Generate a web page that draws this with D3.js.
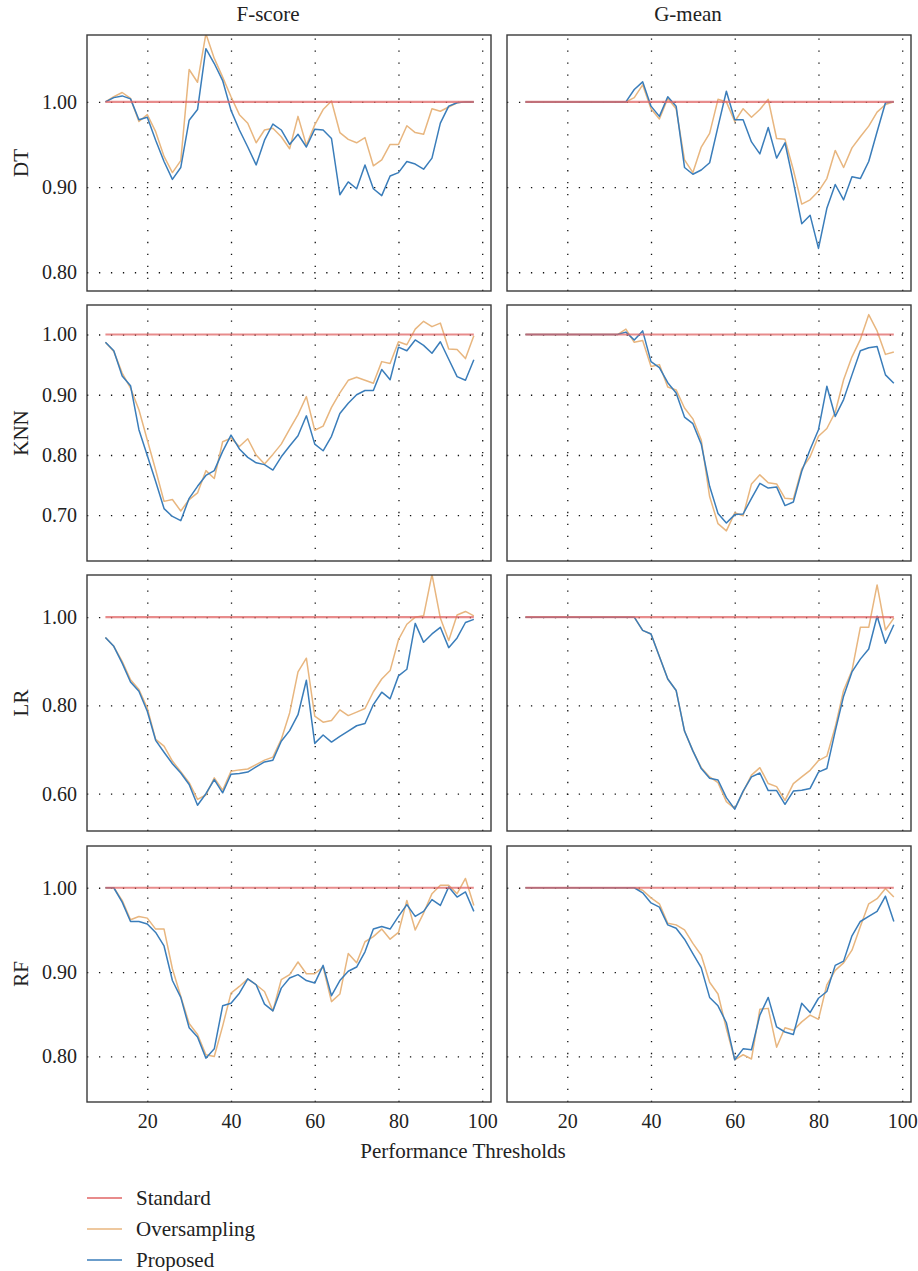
<!DOCTYPE html>
<html>
<head>
<meta charset="utf-8">
<script src="https://cdn.jsdelivr.net/npm/d3@7"></script>
<style>
  body { margin: 0; background: #fff; }
  svg { display: block; }
</style>
</head>
<body>
<svg id="chart"></svg>
<script>
// Thresholds on the x axis (every 2 from 10 to 98)
var thresholds = [10, 12, 14, 16, 18, 20, 22, 24, 26, 28, 30, 32, 34, 36, 38, 40, 42, 44, 46, 48,
  50, 52, 54, 56, 58, 60, 62, 64, 66, 68, 70, 72, 74, 76, 78, 80, 82, 84, 86, 88,
  90, 92, 94, 96, 98];

var standard = [1, 1, 1, 1, 1, 1, 1, 1, 1, 1, 1, 1, 1, 1, 1, 1, 1, 1, 1, 1, 1, 1, 1,
  1, 1, 1, 1, 1, 1, 1, 1, 1, 1, 1, 1, 1, 1, 1, 1, 1, 1, 1, 1, 1, 1];

var columnTitles = ['F-score', 'G-mean'];
var rowLabels = ['DT', 'KNN', 'LR', 'RF'];
var xTicks = [20, 40, 60, 80, 100];
var legendLabels = ['Standard', 'Oversampling', 'Proposed'];

// DT
var dtFscoreOver = [1.000, 1.006, 1.011, 1.004, 0.977, 0.985, 0.965, 0.936, 0.917, 0.931,
  1.038, 1.023, 1.080, 1.051, 1.029, 1.006, 0.985, 0.975, 0.952, 0.967,
  0.969, 0.959, 0.945, 0.983, 0.949, 0.973, 0.991, 1.001, 0.964, 0.956,
  0.952, 0.958, 0.925, 0.932, 0.950, 0.950, 0.972, 0.964, 0.962, 0.992,
  0.989, 0.994, 0.999, 1.000, 1.000];
var dtFscoreProp = [1.000, 1.005, 1.007, 1.0035, 0.979, 0.982, 0.955, 0.930, 0.909, 0.923,
  0.9785, 0.991, 1.0625, 1.045, 1.025, 0.990, 0.967, 0.947, 0.926, 0.955,
  0.974, 0.967, 0.950, 0.962, 0.947, 0.968, 0.967, 0.957, 0.891, 0.906,
  0.898, 0.926, 0.898, 0.890, 0.913, 0.917, 0.930, 0.927, 0.921, 0.934,
  0.975, 0.995, 0.999, 1.000, 1.000];
var dtGmeanOver = [1.000, 1.000, 1.000, 1.000, 1.000, 1.000, 1.000, 1.000, 1.000, 1.000,
  1.000, 1.000, 1.000, 1.005, 1.020, 0.992, 0.980, 1.004, 0.992, 0.932,
  0.917, 0.947, 0.963, 1.003, 1.000, 0.977, 0.992, 0.982, 0.991, 1.003,
  0.957, 0.956, 0.920, 0.880, 0.885, 0.895, 0.910, 0.943, 0.923, 0.946,
  0.959, 0.9715, 0.988, 0.997, 1.000];
var dtGmeanProp = [1.000, 1.000, 1.000, 1.000, 1.000, 1.000, 1.000, 1.000, 1.000, 1.000,
  1.000, 1.000, 1.000, 1.0145, 1.0235, 0.995, 0.983, 1.006, 0.995, 0.923,
  0.915, 0.920, 0.9285, 0.971, 1.0125, 0.979, 0.979, 0.953, 0.939, 0.970,
  0.934, 0.952, 0.906, 0.857, 0.867, 0.828, 0.875, 0.903, 0.885, 0.912,
  0.910, 0.930, 0.965, 0.999, 1.000];

// KNN
var knnFscoreOver = [0.987, 0.972, 0.936, 0.911, 0.875, 0.825, 0.775, 0.723, 0.726, 0.707,
  0.726, 0.737, 0.774, 0.761, 0.822, 0.828, 0.814, 0.827, 0.800, 0.785,
  0.801, 0.818, 0.843, 0.867, 0.897, 0.841, 0.848, 0.879, 0.903, 0.924,
  0.929, 0.924, 0.919, 0.955, 0.952, 0.988, 0.983, 1.009, 1.022, 1.013,
  1.019, 0.976, 0.975, 0.960, 0.998];
var knnFscoreProp = [0.987, 0.973, 0.931, 0.915, 0.842, 0.799, 0.756, 0.711, 0.698, 0.691,
  0.728, 0.748, 0.766, 0.774, 0.806, 0.833, 0.810, 0.796, 0.787, 0.784,
  0.775, 0.797, 0.815, 0.832, 0.865, 0.818, 0.807, 0.831, 0.869, 0.886,
  0.900, 0.907, 0.907, 0.942, 0.925, 0.979, 0.973, 0.991, 0.982, 0.969,
  0.988, 0.959, 0.930, 0.924, 0.958];
var knnGmeanOver = [1.000, 1.000, 1.000, 1.000, 1.000, 1.000, 1.000, 1.000, 1.000, 1.000,
  1.000, 1.000, 1.009, 0.987, 0.990, 0.947, 0.950, 0.913, 0.908, 0.878,
  0.860, 0.825, 0.731, 0.686, 0.674, 0.704, 0.699, 0.752, 0.767, 0.754,
  0.752, 0.728, 0.727, 0.777, 0.797, 0.831, 0.844, 0.871, 0.925, 0.963,
  0.992, 1.033, 1.006, 0.967, 0.971];
var knnGmeanProp = [1.000, 1.000, 1.000, 1.000, 1.000, 1.000, 1.000, 1.000, 1.000, 1.000,
  1.000, 1.000, 1.004, 0.991, 1.006, 0.955, 0.945, 0.920, 0.903, 0.863,
  0.852, 0.818, 0.748, 0.703, 0.687, 0.701, 0.702, 0.728, 0.753, 0.745,
  0.747, 0.716, 0.722, 0.773, 0.809, 0.842, 0.914, 0.864, 0.892, 0.933,
  0.973, 0.978, 0.980, 0.933, 0.919];

// LR
var lrFscoreOver = [0.954, 0.934, 0.900, 0.858, 0.836, 0.794, 0.723, 0.708, 0.674, 0.650,
  0.625, 0.587, 0.597, 0.636, 0.608, 0.651, 0.654, 0.656, 0.666, 0.676,
  0.683, 0.723, 0.783, 0.876, 0.907, 0.776, 0.762, 0.766, 0.790, 0.777,
  0.785, 0.793, 0.831, 0.860, 0.879, 0.949, 0.984, 1.000, 1.003, 1.097,
  0.998, 0.947, 1.005, 1.013, 1.003];
var lrFscoreProp = [0.954, 0.934, 0.896, 0.853, 0.832, 0.787, 0.721, 0.694, 0.668, 0.647,
  0.621, 0.574, 0.600, 0.632, 0.602, 0.644, 0.646, 0.649, 0.661, 0.672,
  0.676, 0.719, 0.743, 0.779, 0.857, 0.714, 0.733, 0.717, 0.730, 0.742,
  0.754, 0.759, 0.802, 0.830, 0.815, 0.867, 0.882, 0.986, 0.943, 0.962,
  0.977, 0.931, 0.953, 0.988, 0.995];
var lrGmeanOver = [1.000, 1.000, 1.000, 1.000, 1.000, 1.000, 1.000, 1.000, 1.000, 1.000,
  1.000, 1.000, 1.000, 1.000, 0.970, 0.962, 0.911, 0.860, 0.834, 0.742,
  0.697, 0.659, 0.638, 0.625, 0.582, 0.566, 0.604, 0.642, 0.659, 0.623,
  0.616, 0.585, 0.623, 0.638, 0.653, 0.675, 0.685, 0.751, 0.834, 0.879,
  0.977, 0.977, 1.073, 0.971, 0.998];
var lrGmeanProp = [1.000, 1.000, 1.000, 1.000, 1.000, 1.000, 1.000, 1.000, 1.000, 1.000,
  1.000, 1.000, 1.000, 1.000, 0.970, 0.962, 0.911, 0.860, 0.834, 0.742,
  0.697, 0.657, 0.635, 0.631, 0.591, 0.565, 0.606, 0.638, 0.647, 0.607,
  0.607, 0.576, 0.606, 0.608, 0.612, 0.649, 0.657, 0.742, 0.821, 0.876,
  0.905, 0.928, 1.002, 0.941, 0.983];

// RF
var rfFscoreOver = [1.000, 1.000, 0.985, 0.962, 0.966, 0.964, 0.951, 0.951, 0.904, 0.871,
  0.839, 0.826, 0.802, 0.800, 0.836, 0.875, 0.883, 0.892, 0.885, 0.877,
  0.854, 0.891, 0.897, 0.912, 0.898, 0.898, 0.906, 0.865, 0.874, 0.922,
  0.911, 0.936, 0.942, 0.951, 0.939, 0.947, 0.985, 0.950, 0.970, 0.993,
  1.003, 1.003, 0.993, 1.011, 0.979];
var rfFscoreProp = [1.000, 1.000, 0.983, 0.960, 0.960, 0.957, 0.947, 0.931, 0.890, 0.870,
  0.834, 0.823, 0.798, 0.809, 0.860, 0.863, 0.875, 0.892, 0.885, 0.862,
  0.854, 0.881, 0.893, 0.897, 0.890, 0.887, 0.908, 0.872, 0.890, 0.901,
  0.906, 0.924, 0.951, 0.954, 0.951, 0.966, 0.980, 0.966, 0.972, 0.986,
  0.979, 1.001, 0.989, 0.995, 0.972];
var rfGmeanOver = [1.000, 1.000, 1.000, 1.000, 1.000, 1.000, 1.000, 1.000, 1.000, 1.000,
  1.000, 1.000, 1.000, 1.000, 0.997, 0.988, 0.981, 0.958, 0.956, 0.950,
  0.934, 0.920, 0.888, 0.874, 0.833, 0.796, 0.802, 0.797, 0.856, 0.857,
  0.811, 0.834, 0.831, 0.841, 0.849, 0.844, 0.885, 0.902, 0.911, 0.926,
  0.954, 0.981, 0.987, 0.999, 0.989];
var rfGmeanProp = [1.000, 1.000, 1.000, 1.000, 1.000, 1.000, 1.000, 1.000, 1.000, 1.000,
  1.000, 1.000, 1.000, 1.000, 0.994, 0.982, 0.977, 0.956, 0.952, 0.939,
  0.922, 0.905, 0.870, 0.860, 0.840, 0.796, 0.809, 0.808, 0.849, 0.870,
  0.835, 0.829, 0.826, 0.863, 0.852, 0.869, 0.877, 0.908, 0.913, 0.943,
  0.960, 0.966, 0.972, 0.990, 0.960];

(function () {
  'use strict';

  var width = 918;
  var height = 1271;
  var fontFamily = "'Liberation Serif', 'DejaVu Serif', serif";

  var colLeft = [87, 507];
  var panelWidth = 404;
  var rowTop = [35, 305, 575, 846];
  var panelHeight = 256;

  var colors = {
    standard: '#e06565',
    over: '#e8b67f',
    prop: '#3a7dba',
  };

  // One entry per row; y domain is fitted to the original axes.
  var rows = [
    { domain: [0.778, 1.0785], ticks: [0.8, 0.9, 1.0], series: [[dtFscoreOver, dtFscoreProp], [dtGmeanOver, dtGmeanProp]] },
    { domain: [0.624, 1.049], ticks: [0.7, 0.8, 0.9, 1.0], series: [[knnFscoreOver, knnFscoreProp], [knnGmeanOver, knnGmeanProp]] },
    { domain: [0.5155, 1.0956], ticks: [0.6, 0.8, 1.0], series: [[lrFscoreOver, lrFscoreProp], [lrGmeanOver, lrGmeanProp]] },
    { domain: [0.746, 1.0495], ticks: [0.8, 0.9, 1.0], series: [[rfFscoreOver, rfFscoreProp], [rfGmeanOver, rfGmeanProp]] },
  ];

  var svg = d3.select('#chart')
    .attr('width', width)
    .attr('height', height)
    .style('font-family', fontFamily);

  var x = d3.scaleLinear().domain([5.6, 102.1]).range([0, panelWidth]);

  rows.forEach(function (row, r) {
    var y = d3.scaleLinear().domain(row.domain).range([panelHeight, 0]);
    var line = d3.line()
      .x(function (d, i) { return x(thresholds[i]); })
      .y(function (d) { return y(d); });

    // row label
    svg.append('text')
      .attr('transform', 'translate(21,' + (rowTop[r] + panelHeight / 2) + ') rotate(-90)')
      .attr('text-anchor', 'middle')
      .attr('dy', '0.35em')
      .style('font-size', '21px')
      .style('fill', '#222')
      .text(rowLabels[r]);

    colLeft.forEach(function (left, c) {
      var panel = svg.append('g')
        .attr('transform', 'translate(' + left + ',' + rowTop[r] + ')');
      var clipId = 'clip-' + r + '-' + c;

      panel.append('clipPath')
        .attr('id', clipId)
        .append('rect')
          .attr('width', panelWidth)
          .attr('height', panelHeight);

      // dotted grid
      var gridY = panel.append('g')
        .attr('class', 'grid')
        .call(d3.axisLeft(y).tickValues(row.ticks).tickSize(-panelWidth).tickFormat(''));
      var gridX = panel.append('g')
        .attr('class', 'grid')
        .attr('transform', 'translate(0,' + panelHeight + ')')
        .call(d3.axisBottom(x).tickValues(xTicks).tickSize(-panelHeight).tickFormat(''));
      [gridY, gridX].forEach(function (g) {
        g.select('.domain').remove();
        g.selectAll('line')
          .attr('stroke', '#111')
          .attr('stroke-width', 1.3)
          .attr('stroke-dasharray', '1.3,10.66');
      });

      var plot = panel.append('g').attr('clip-path', 'url(#' + clipId + ')');

      plot.append('path')
        .datum(row.series[c][0])
        .attr('fill', 'none')
        .attr('stroke', colors.over)
        .attr('stroke-width', 1.5)
        .attr('stroke-linejoin', 'round')
        .attr('d', line);

      plot.append('path')
        .datum(row.series[c][1])
        .attr('fill', 'none')
        .attr('stroke', colors.prop)
        .attr('stroke-width', 1.5)
        .attr('stroke-linejoin', 'round')
        .attr('d', line);

      plot.append('path')
        .datum(standard)
        .attr('fill', 'none')
        .attr('stroke', colors.standard)
        .attr('stroke-opacity', 0.75)
        .attr('stroke-width', 2.2)
        .attr('d', line);

      panel.append('rect')
        .attr('width', panelWidth)
        .attr('height', panelHeight)
        .attr('fill', 'none')
        .attr('stroke', '#3a3a3a')
        .attr('stroke-width', 1.4);

      // y tick labels on left column only
      if (c === 0) {
        var yAxis = panel.append('g')
          .call(d3.axisLeft(y).tickValues(row.ticks).tickSize(0).tickPadding(10).tickFormat(d3.format('.2f')));
        yAxis.select('.domain').remove();
        yAxis.selectAll('text')
          .style('font-family', fontFamily)
          .style('font-size', '20px')
          .style('fill', '#222');
      }

      // x tick labels on bottom row only
      if (r === rows.length - 1) {
        var xAxis = panel.append('g')
          .attr('transform', 'translate(0,' + panelHeight + ')')
          .call(d3.axisBottom(x).tickValues(xTicks).tickSize(0).tickPadding(12));
        xAxis.select('.domain').remove();
        xAxis.selectAll('text')
          .style('font-family', fontFamily)
          .style('font-size', '20px')
          .style('fill', '#222');
      }

      // column titles on top row
      if (r === 0) {
        svg.append('text')
          .attr('x', left + 181)
          .attr('y', 21)
          .attr('text-anchor', 'middle')
          .style('font-size', '21px')
          .style('fill', '#222')
          .text(columnTitles[c]);
      }
    });
  });

  svg.append('text')
    .attr('x', 463)
    .attr('y', 1158)
    .attr('text-anchor', 'middle')
    .style('font-size', '21px')
    .style('fill', '#222')
    .text('Performance Thresholds');

  // legend
  var legendColors = [colors.standard, colors.over, colors.prop];
  var legendY = [1198, 1229, 1260];
  var legend = svg.append('g');
  legendLabels.forEach(function (label, i) {
    legend.append('line')
      .attr('x1', 87)
      .attr('x2', 122)
      .attr('y1', legendY[i])
      .attr('y2', legendY[i])
      .attr('stroke', legendColors[i])
      .attr('stroke-width', 1.5);
    legend.append('text')
      .attr('x', 136)
      .attr('y', legendY[i])
      .attr('dy', '0.32em')
      .style('font-size', '21px')
      .style('fill', '#222')
      .text(label);
  });
}());
</script>
</body>
</html>
